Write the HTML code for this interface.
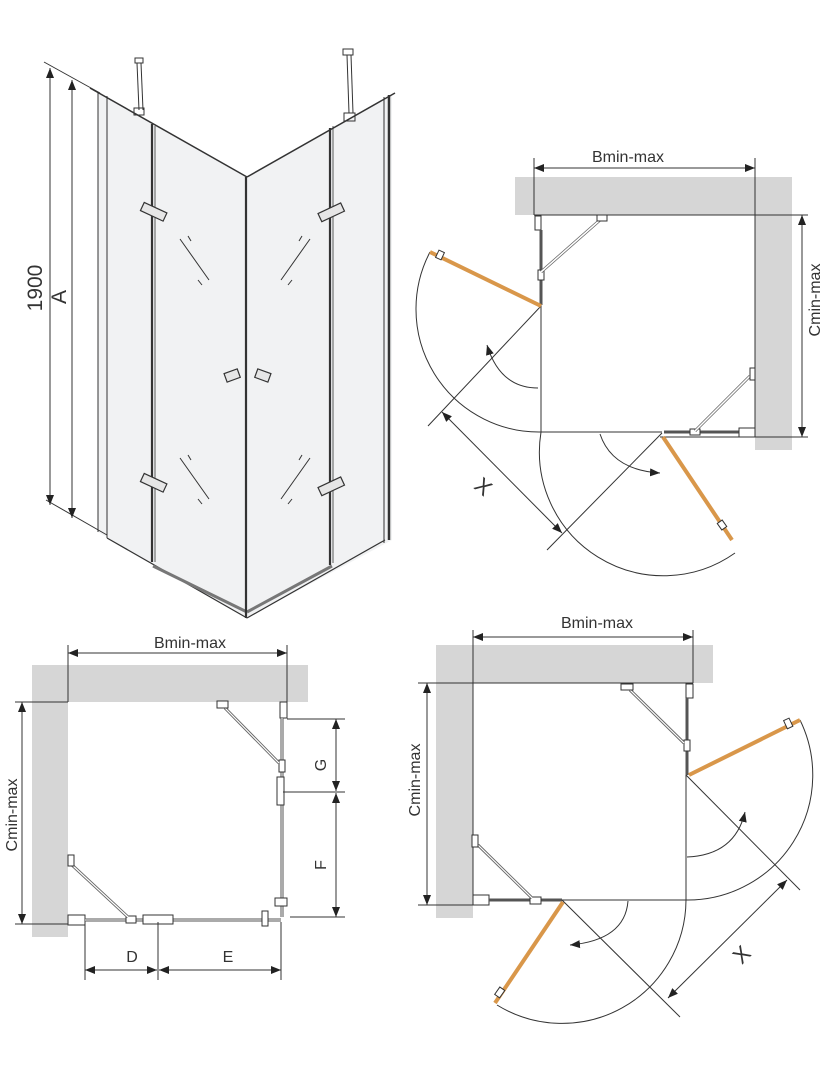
<!DOCTYPE html>
<html><head><meta charset="utf-8"><style>
html,body{margin:0;padding:0;background:#fff;}
svg{display:block;}
text{font-family:"Liberation Sans",sans-serif;fill:#333;}
</style></head><body>
<svg width="821" height="1074" viewBox="0 0 821 1074" xmlns="http://www.w3.org/2000/svg">
<defs>
<marker id="ar" viewBox="0 0 10 10" refX="10" refY="5" markerWidth="10" markerHeight="10" markerUnits="userSpaceOnUse" orient="auto-start-reverse">
<path d="M0,1 L10,5 L0,9 z" fill="#222"/></marker>
</defs>

<!-- ============ 3D VIEW ============ -->
<g stroke="#333" fill="none">
<!-- glass panels -->
<polygon points="98,93 247,177 247,618 98,532" fill="#f1f2f3" stroke="none"/>
<polygon points="247,177 392,95 392,540 247,618" fill="#f1f2f3" stroke="none"/>
<line x1="98" y1="93" x2="98" y2="532" stroke-width="1"/>
<line x1="107" y1="96" x2="107" y2="538" stroke-width="1"/>
<line x1="90" y1="88" x2="247" y2="177" stroke-width="1.5"/>
<line x1="247" y1="177" x2="395" y2="93" stroke-width="1.5"/>
<line x1="107" y1="538" x2="247" y2="618" stroke-width="1.2"/>
<line x1="247" y1="618" x2="385" y2="540" stroke-width="1.2"/>
<!-- bottom profiles -->
<line x1="153" y1="566" x2="247" y2="612" stroke-width="3" stroke="#777"/>
<line x1="247" y1="612" x2="332" y2="566" stroke-width="3" stroke="#777"/>
<!-- verticals -->
<line x1="152" y1="124" x2="152" y2="562" stroke-width="2.2"/>
<line x1="155" y1="126" x2="155" y2="562" stroke-width="0.8"/>
<line x1="246" y1="177" x2="246" y2="618" stroke-width="2.2"/>
<line x1="330" y1="128" x2="330" y2="565" stroke-width="2.2"/>
<line x1="333" y1="126" x2="333" y2="563" stroke-width="0.8"/>
<line x1="384" y1="97" x2="384" y2="543" stroke-width="1"/>
<line x1="389" y1="95" x2="389" y2="540" stroke-width="2.5"/>
<!-- supports -->
<line x1="137" y1="63" x2="139" y2="110" stroke-width="1"/>
<line x1="141" y1="63" x2="143" y2="110" stroke-width="1"/>
<rect x="135" y="58" width="8" height="5" stroke-width="1"/>
<rect x="134" y="108" width="10" height="7" stroke-width="1"/>
<line x1="347" y1="55" x2="349" y2="113" stroke-width="1"/>
<line x1="351" y1="55" x2="353" y2="113" stroke-width="1"/>
<rect x="343" y="49" width="10" height="6" stroke-width="1"/>
<rect x="344" y="113" width="11" height="8" stroke-width="1"/>
<!-- hinges -->
<g stroke-width="1.2" fill="#e6e6e6">
<rect x="141" y="207" width="25" height="9" transform="rotate(25 153 212)"/>
<rect x="141" y="478" width="25" height="9" transform="rotate(25 153 483)"/>
<rect x="319" y="208" width="25" height="9" transform="rotate(-25 331 213)"/>
<rect x="319" y="482" width="25" height="9" transform="rotate(-25 331 487)"/>
<rect x="225" y="371" width="14" height="9" transform="rotate(-20 232 375)"/>
<rect x="256" y="371" width="14" height="9" transform="rotate(20 263 375)"/>
</g>
<!-- glass marks -->
<g stroke-width="1">
<line x1="180" y1="239" x2="209" y2="280"/><line x1="188" y1="236" x2="191" y2="241"/><line x1="198" y1="280" x2="202" y2="285"/>
<line x1="310" y1="239" x2="281" y2="280"/><line x1="302" y1="236" x2="299" y2="241"/><line x1="292" y1="280" x2="288" y2="285"/>
<line x1="180" y1="458" x2="209" y2="499"/><line x1="188" y1="455" x2="191" y2="460"/><line x1="198" y1="499" x2="202" y2="504"/>
<line x1="310" y1="458" x2="281" y2="499"/><line x1="302" y1="455" x2="299" y2="460"/><line x1="292" y1="499" x2="288" y2="504"/>
</g>
<!-- dimension lines -->
<line x1="44" y1="62" x2="100" y2="93" stroke-width="1"/>
<line x1="46" y1="500" x2="107" y2="535" stroke-width="1"/>
<line x1="50" y1="68" x2="50" y2="505" stroke-width="1" marker-start="url(#ar)" marker-end="url(#ar)"/>
<line x1="72" y1="80" x2="72" y2="518" stroke-width="1" marker-start="url(#ar)" marker-end="url(#ar)"/>
</g>
<text x="0" y="0" font-size="21" transform="translate(42,288) rotate(-90)" text-anchor="middle">1900</text>
<text x="0" y="0" font-size="21" transform="translate(66,297) rotate(-90)" text-anchor="middle">A</text>

<!-- ============ TOP RIGHT PLAN ============ -->
<rect x="515" y="177" width="277" height="38" fill="#d6d6d6"/>
<rect x="755" y="177" width="37" height="273" fill="#d6d6d6"/>
<g stroke="#333" fill="none" stroke-width="1">
<line x1="534" y1="158" x2="534" y2="215"/>
<line x1="755" y1="158" x2="755" y2="437"/>
<line x1="534" y1="168" x2="755" y2="168" marker-start="url(#ar)" marker-end="url(#ar)"/>
<line x1="534" y1="215" x2="808" y2="215"/>
<line x1="660" y1="437" x2="808" y2="437"/>
<line x1="802" y1="215" x2="802" y2="437" marker-start="url(#ar)" marker-end="url(#ar)"/>
<!-- panels -->
<rect x="535" y="216" width="6" height="14" fill="#fff"/>
<line x1="541" y1="230" x2="541" y2="305" stroke-width="3" stroke="#555"/>
<rect x="538" y="270" width="6" height="10" fill="#fff"/>
<line x1="541" y1="272" x2="600" y2="220" stroke-width="3" stroke="#666"/>
<line x1="541" y1="272" x2="600" y2="220" stroke-width="1.5" stroke="#fff"/>
<rect x="597" y="215" width="10" height="6" fill="#fff"/>
<line x1="541" y1="305" x2="541" y2="432"/>
<line x1="541" y1="432" x2="662" y2="432"/>
<line x1="664" y1="432" x2="740" y2="432" stroke-width="3" stroke="#555"/>
<rect x="690" y="429" width="10" height="6" fill="#fff"/>
<rect x="739" y="428" width="16" height="9" fill="#fff"/>
<line x1="695" y1="431" x2="750" y2="376" stroke-width="3" stroke="#666"/>
<line x1="695" y1="431" x2="750" y2="376" stroke-width="1.5" stroke="#fff"/>
<rect x="750" y="368" width="5" height="12" fill="#fff"/>
<!-- swing lines -->
<line x1="541" y1="306" x2="428" y2="426"/>
<line x1="662" y1="433" x2="547" y2="550"/>
<path d="M430,252 A123,123 0 0,0 541,432"/>
<path d="M541,432 A124,124 0 0,0 735,553"/>
<line x1="442" y1="412" x2="562" y2="533" marker-start="url(#ar)" marker-end="url(#ar)"/>
<path d="M538,388 Q500,388 487,345" marker-end="url(#ar)"/>
<path d="M600,434 Q612,470 660,473" marker-end="url(#ar)"/>
</g>
<line x1="430" y1="252" x2="541" y2="306" stroke="#d9974a" stroke-width="4"/>
<line x1="663" y1="437" x2="732" y2="540" stroke="#d9974a" stroke-width="4"/>
<rect x="437" y="251" width="6" height="8" fill="#fff" stroke="#333" transform="rotate(25 440 255)"/>
<rect x="719" y="521" width="6" height="8" fill="#fff" stroke="#333" transform="rotate(-35 722 525)"/>
<text x="628" y="162" font-size="16" text-anchor="middle">Bmin-max</text>
<text x="0" y="0" font-size="16" transform="translate(820,300) rotate(-90)" text-anchor="middle">Cmin-max</text>
<text x="483" y="494" font-size="22" text-anchor="middle" transform="rotate(40 483 487)">X</text>

<!-- ============ BOTTOM LEFT PLAN ============ -->
<rect x="32" y="665" width="276" height="37" fill="#d6d6d6"/>
<rect x="32" y="665" width="36" height="272" fill="#d6d6d6"/>
<g stroke="#333" fill="none" stroke-width="1">
<line x1="68" y1="645" x2="68" y2="702"/>
<line x1="15" y1="702" x2="68" y2="702"/>
<line x1="287" y1="645" x2="287" y2="702"/>
<line x1="68" y1="653" x2="287" y2="653" marker-start="url(#ar)" marker-end="url(#ar)"/>
<line x1="15" y1="924" x2="70" y2="924"/>
<line x1="22" y1="702" x2="22" y2="924" marker-start="url(#ar)" marker-end="url(#ar)"/>
<rect x="280" y="702" width="7" height="16" fill="#fff"/>
<line x1="282" y1="718" x2="282" y2="917" stroke-width="3" stroke="#555"/>
<line x1="282" y1="718" x2="282" y2="917" stroke-width="1" stroke="#fff"/>
<rect x="279" y="760" width="6" height="12" fill="#fff"/>
<rect x="277" y="777" width="7" height="28" fill="#fff"/>
<rect x="275" y="898" width="12" height="8" fill="#fff"/>
<line x1="225" y1="708" x2="279" y2="763" stroke-width="3" stroke="#666"/>
<line x1="225" y1="708" x2="279" y2="763" stroke-width="1.2" stroke="#fff"/>
<rect x="217" y="701" width="11" height="7" fill="#fff"/>
<rect x="68" y="915" width="17" height="10" fill="#fff"/>
<line x1="85" y1="920" x2="281" y2="920" stroke-width="3" stroke="#555"/>
<line x1="85" y1="920" x2="281" y2="920" stroke-width="1" stroke="#fff"/>
<rect x="126" y="916" width="10" height="7" fill="#fff"/>
<rect x="143" y="915" width="30" height="9" fill="#fff"/>
<rect x="262" y="911" width="6" height="15" fill="#fff"/>
<line x1="72" y1="865" x2="128" y2="917" stroke-width="3" stroke="#666"/>
<line x1="72" y1="865" x2="128" y2="917" stroke-width="1.2" stroke="#fff"/>
<rect x="68" y="855" width="6" height="11" fill="#fff"/>
<!-- G F -->
<line x1="287" y1="719" x2="345" y2="719"/>
<line x1="283" y1="792" x2="345" y2="792"/>
<line x1="290" y1="917" x2="345" y2="917"/>
<line x1="336" y1="719" x2="336" y2="791" marker-start="url(#ar)" marker-end="url(#ar)"/>
<line x1="336" y1="793" x2="336" y2="917" marker-start="url(#ar)" marker-end="url(#ar)"/>
<!-- D E -->
<line x1="85" y1="922" x2="85" y2="980"/>
<line x1="158" y1="922" x2="158" y2="980"/>
<line x1="281" y1="922" x2="281" y2="980"/>
<line x1="85" y1="970" x2="157" y2="970" marker-start="url(#ar)" marker-end="url(#ar)"/>
<line x1="159" y1="970" x2="281" y2="970" marker-start="url(#ar)" marker-end="url(#ar)"/>
</g>
<text x="190" y="648" font-size="16" text-anchor="middle">Bmin-max</text>
<text x="0" y="0" font-size="16" transform="translate(17,815) rotate(-90)" text-anchor="middle">Cmin-max</text>
<text x="0" y="0" font-size="16" transform="translate(326,765) rotate(-90)" text-anchor="middle">G</text>
<text x="0" y="0" font-size="16" transform="translate(326,865) rotate(-90)" text-anchor="middle">F</text>
<text x="132" y="962" font-size="16" text-anchor="middle">D</text>
<text x="228" y="962" font-size="16" text-anchor="middle">E</text>

<!-- ============ BOTTOM RIGHT PLAN ============ -->
<rect x="436" y="645" width="277" height="38" fill="#d6d6d6"/>
<rect x="436" y="645" width="37" height="273" fill="#d6d6d6"/>
<g stroke="#333" fill="none" stroke-width="1">
<line x1="473" y1="630" x2="473" y2="905"/>
<line x1="693" y1="630" x2="693" y2="683"/>
<line x1="473" y1="637" x2="693" y2="637" marker-start="url(#ar)" marker-end="url(#ar)"/>
<line x1="418" y1="683" x2="693" y2="683"/>
<line x1="418" y1="905" x2="473" y2="905"/>
<line x1="427" y1="683" x2="427" y2="905" marker-start="url(#ar)" marker-end="url(#ar)"/>
<rect x="686" y="684" width="7" height="14" fill="#fff"/>
<line x1="687" y1="698" x2="687" y2="775" stroke-width="3" stroke="#555"/>
<rect x="684" y="740" width="6" height="11" fill="#fff"/>
<line x1="630" y1="690" x2="684" y2="743" stroke-width="3" stroke="#666"/>
<line x1="630" y1="690" x2="684" y2="743" stroke-width="1.2" stroke="#fff"/>
<rect x="621" y="684" width="12" height="6" fill="#fff"/>
<line x1="686" y1="775" x2="686" y2="900"/>
<line x1="562" y1="900" x2="686" y2="900"/>
<rect x="473" y="895" width="16" height="10" fill="#fff"/>
<line x1="489" y1="900" x2="562" y2="900" stroke-width="3" stroke="#555"/>
<rect x="530" y="897" width="11" height="7" fill="#fff"/>
<line x1="478" y1="845" x2="532" y2="898" stroke-width="3" stroke="#666"/>
<line x1="478" y1="845" x2="532" y2="898" stroke-width="1.2" stroke="#fff"/>
<rect x="472" y="835" width="6" height="12" fill="#fff"/>
<line x1="686" y1="775" x2="800" y2="890"/>
<line x1="562" y1="900" x2="680" y2="1017"/>
<path d="M800,720 A125,125 0 0,1 686,900"/>
<path d="M686,900 A124,124 0 0,1 497,1005"/>
<line x1="668" y1="998" x2="787" y2="880" marker-start="url(#ar)" marker-end="url(#ar)"/>
<path d="M687,857 Q735,855 745,812" marker-end="url(#ar)"/>
<path d="M628,901 Q625,940 570,945" marker-end="url(#ar)"/>
</g>
<line x1="689" y1="775" x2="800" y2="720" stroke="#d9974a" stroke-width="4"/>
<line x1="563" y1="902" x2="495" y2="1003" stroke="#d9974a" stroke-width="4"/>
<rect x="785" y="719" width="6" height="9" fill="#fff" stroke="#333" transform="rotate(-25 788 723)"/>
<rect x="497" y="988" width="6" height="9" fill="#fff" stroke="#333" transform="rotate(35 500 992)"/>
<text x="597" y="628" font-size="16" text-anchor="middle">Bmin-max</text>
<text x="0" y="0" font-size="16" transform="translate(420,780) rotate(-90)" text-anchor="middle">Cmin-max</text>
<text x="742" y="962" font-size="22" text-anchor="middle" transform="rotate(-45 742 955)">X</text>
</svg>
</body></html>
